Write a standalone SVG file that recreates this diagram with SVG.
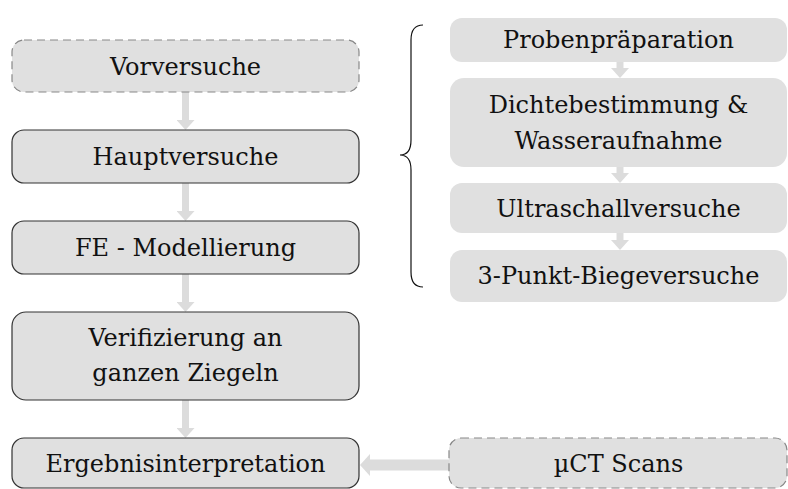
<svg xmlns="http://www.w3.org/2000/svg" width="788" height="489" viewBox="0 0 788 489">
<style>
.box{fill:#e0e0e0;}
.solid{stroke:#333;stroke-width:1.2;}
.dash{stroke:#888;stroke-width:1.2;stroke-dasharray:8,5;}
.t{font-family:'DejaVu Serif',serif;font-size:24px;fill:#111;text-anchor:middle;}
.arr{stroke:#dcdcdc;stroke-width:7;fill:none;}
.arrh{stroke:#dcdcdc;stroke-width:11;fill:none;}
</style>
<defs>
<marker id="ah" markerUnits="userSpaceOnUse" markerWidth="10" markerHeight="18" refX="0" refY="9" orient="auto">
<path d="M0,0 L10,9 L0,18 Z" fill="#dcdcdc"/>
</marker>
<marker id="ahh" markerUnits="userSpaceOnUse" markerWidth="10" markerHeight="22" refX="0" refY="11" orient="auto">
<path d="M0,0 L10,11 L0,22 Z" fill="#dcdcdc"/>
</marker>
</defs>
<rect width="788" height="489" fill="#fff"/>
<g id="connectors">
<line class="arr" x1="185.5" y1="92" x2="185.5" y2="120" marker-end="url(#ah)"/>
<line class="arr" x1="185.5" y1="183" x2="185.5" y2="211" marker-end="url(#ah)"/>
<line class="arr" x1="185.5" y1="274" x2="185.5" y2="302" marker-end="url(#ah)"/>
<line class="arr" x1="185.5" y1="400" x2="185.5" y2="428" marker-end="url(#ah)"/>
<line class="arr" x1="620" y1="62" x2="620" y2="68" marker-end="url(#ah)"/>
<line class="arr" x1="620" y1="167" x2="620" y2="173" marker-end="url(#ah)"/>
<line class="arr" x1="620" y1="233" x2="620" y2="240" marker-end="url(#ah)"/>
<line class="arrh" x1="449" y1="465" x2="370" y2="465" marker-end="url(#ahh)"/>
<path d="M423,25 Q411,25 411,40 L411,140 Q411,155 400,155 Q411,155 411,170 L411,272 Q411,287 423,287" fill="none" stroke="#111" stroke-width="1.2"/>
</g>
<g id="vorversuche">
<rect class="box dash" x="12" y="40" width="347" height="52" rx="12"/>
<text class="t" x="185.5" y="75">Vorversuche</text>
</g>
<g id="hauptversuche">
<rect class="box solid" x="12" y="130" width="347" height="53" rx="12"/>
<text class="t" x="185.5" y="165">Hauptversuche</text>
</g>
<g id="fe">
<rect class="box solid" x="12" y="221" width="347" height="53" rx="12"/>
<text class="t" x="185.5" y="256">FE - Modellierung</text>
</g>
<g id="verifizierung">
<rect class="box solid" x="12" y="312" width="347" height="88" rx="14"/>
<text class="t" x="185.5" y="346">Verifizierung an</text>
<text class="t" x="185.5" y="381">ganzen Ziegeln</text>
</g>
<g id="ergebnis">
<rect class="box solid" x="12" y="438" width="347" height="50" rx="12"/>
<text class="t" x="185.5" y="472">Ergebnisinterpretation</text>
</g>
<g id="proben">
<rect class="box" x="450" y="18" width="337" height="44" rx="12"/>
<text class="t" x="618.5" y="48">Probenpräparation</text>
</g>
<g id="dichte">
<rect class="box" x="450" y="78" width="337" height="89" rx="14"/>
<text class="t" x="618.5" y="113">Dichtebestimmung &amp;</text>
<text class="t" x="618.5" y="149">Wasseraufnahme</text>
</g>
<g id="ultraschall">
<rect class="box" x="450" y="183" width="337" height="50" rx="12"/>
<text class="t" x="618.5" y="217">Ultraschallversuche</text>
</g>
<g id="biege">
<rect class="box" x="450" y="250" width="337" height="52" rx="12"/>
<text class="t" x="618.5" y="284">3-Punkt-Biegeversuche</text>
</g>
<g id="muct">
<rect class="box dash" x="449" y="438" width="338" height="50" rx="12"/>
<text class="t" x="618.5" y="472">µCT Scans</text>
</g>
</svg>
